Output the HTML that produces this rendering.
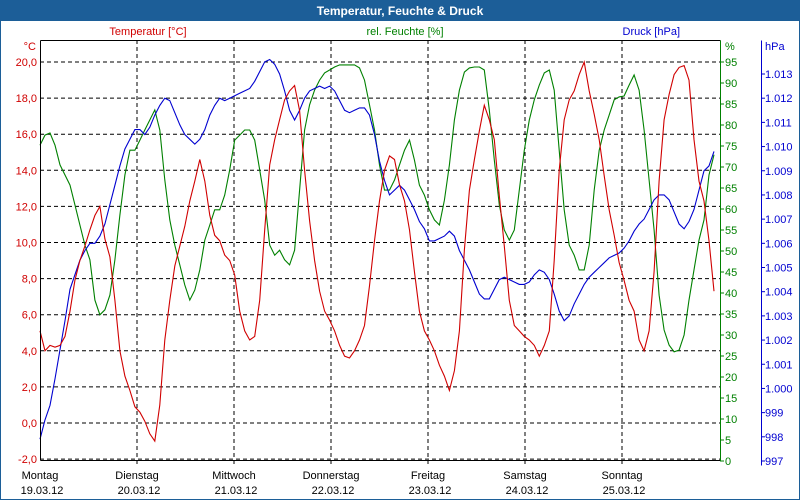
<!DOCTYPE html>
<html><head><meta charset="utf-8"><style>
html,body{margin:0;padding:0;background:#fff}
svg{display:block;font-family:"Liberation Sans",sans-serif}
</style></head><body>
<svg id="chart" width="800" height="500" viewBox="0 0 800 500">
<rect x="0.5" y="0.5" width="799" height="499" fill="#fff" stroke="#1c5e98"/>
<rect x="0" y="0" width="800" height="21" fill="#1c5e98"/>
<text x="400" y="15" text-anchor="middle" fill="#fff" font-size="12" font-weight="bold">Temperatur, Feuchte &amp; Druck</text>
<text x="148" y="35" text-anchor="middle" fill="#d00000" font-size="11">Temperatur [°C]</text>
<text x="405" y="35" text-anchor="middle" fill="#008000" font-size="11">rel. Feuchte [%]</text>
<text x="680" y="35" text-anchor="end" fill="#0000d0" font-size="11">Druck [hPa]</text>
<text x="36" y="50" text-anchor="end" fill="#d00000" font-size="11">°C</text>
<text x="725" y="50" fill="#008000" font-size="11">%</text>
<text x="765" y="50" fill="#0000d0" font-size="11">hPa</text>
<g id="grid"></g>
<g id="series"></g>
<g id="axes"></g>
</svg>
<script>
const dayNames=["Montag","Dienstag","Mittwoch","Donnerstag","Freitag","Samstag","Sonntag"];
const dayDates=["19.03.12","20.03.12","21.03.12","22.03.12","23.03.12","24.03.12","25.03.12"];
const tempTicks=[20,18,16,14,12,10,8,6,4,2,0,-2];
const tempTickLabels=["20,0","18,0","16,0","14,0","12,0","10,0","8,0","6,0","4,0","2,0","0,0","-2,0"];
const humTicks=[0,5,10,15,20,25,30,35,40,45,50,55,60,65,70,75,80,85,90,95];
const presTicks=[997,998,999,1000,1001,1002,1003,1004,1005,1006,1007,1008,1009,1010,1011,1012,1013];
const presTickLabels=["997","998","999","1.000","1.001","1.002","1.003","1.004","1.005","1.006","1.007","1.008","1.009","1.010","1.011","1.012","1.013"];
const totalHours=168;
const temperature=[5.1,4.0,4.3,4.2,4.3,4.8,6.2,7.9,9.0,9.8,10.7,11.5,12.0,10.2,9.2,6.8,4.0,2.6,1.8,0.9,0.6,0.1,-0.6,-1.0,1.0,4.6,6.8,8.7,9.8,10.9,12.3,13.4,14.6,13.4,11.5,10.4,10.1,9.3,9.0,8.2,6.2,5.1,4.6,4.8,6.8,10.7,14.3,15.7,16.8,17.9,18.4,18.7,17.3,14.0,11.2,9.0,7.3,6.2,5.7,5.1,4.3,3.7,3.6,4.0,4.6,5.4,7.6,10.1,12.3,14.0,14.8,14.6,13.2,12.3,10.7,8.4,6.2,5.1,4.6,4.0,3.2,2.6,1.8,2.9,5.1,9.6,12.9,14.6,16.2,17.6,16.8,15.7,12.6,9.8,6.8,5.4,5.1,4.8,4.6,4.3,3.7,4.3,5.1,9.0,14.0,16.8,17.9,18.4,19.3,20.0,18.4,17.1,15.7,13.7,11.8,10.4,8.9,7.9,6.8,6.2,4.6,4.0,5.1,8.4,13.4,16.8,18.2,19.3,19.7,19.8,19.0,15.7,13.4,12.3,10.1,7.3];
const humidity=[75.2,77.6,78.1,75.2,70.5,68.1,65.7,61,56.2,51.4,47.9,38.3,34.8,36,39.5,47.9,58.6,68.1,74,74,76.4,78.8,81.2,83.6,78.8,66.9,57.4,51.4,46.7,41.9,38.3,40.7,45.5,52.6,56.2,59.8,59.8,63.3,69.3,76.4,77.6,78.8,78.8,76.4,69.3,62.1,51.4,49,50.2,47.9,46.7,50.2,64.5,78.8,84.8,88.3,90.7,92.4,93.1,93.8,94.3,94.3,94.3,94.3,93.6,90.7,84.8,78.8,70.5,64.5,64.5,66.9,70.5,74,76.4,71.7,65.7,63.3,59.8,57.4,56.2,62.1,70.5,81.2,88.3,92.6,93.6,93.8,93.8,93.1,83.6,71.7,61,55,52.6,55,64.5,74,81.2,86,89.5,92.4,93.1,88.3,74,59.8,51.4,49,45.5,45.5,51.4,64.5,74,78.8,82.4,86,86.7,86.9,89.5,91.9,88.3,78.8,66.9,55,39.5,31.2,27.6,26,26.4,30,38.3,45.5,52.6,57.4,68.1,72.9];
const pressure=[997.9,998.7,999.3,1000.4,1001.6,1002.8,1004.1,1004.7,1005.3,1005.7,1006.0,1006.0,1006.3,1006.8,1007.6,1008.4,1009.2,1009.9,1010.3,1010.7,1010.7,1010.5,1010.8,1011.3,1011.7,1012.0,1011.9,1011.4,1010.9,1010.5,1010.3,1010.1,1010.3,1010.7,1011.3,1011.7,1012.0,1011.9,1012.0,1012.1,1012.2,1012.3,1012.4,1012.7,1013.1,1013.5,1013.6,1013.4,1013.0,1012.3,1011.5,1011.1,1011.5,1012.0,1012.3,1012.4,1012.5,1012.4,1012.5,1012.3,1011.9,1011.5,1011.4,1011.5,1011.6,1011.6,1011.3,1010.5,1009.4,1008.6,1008.0,1008.2,1008.4,1008.2,1007.8,1007.4,1006.9,1006.6,1006.1,1006.1,1006.2,1006.3,1006.5,1006.3,1005.7,1005.3,1004.9,1004.4,1003.9,1003.7,1003.7,1004.1,1004.5,1004.6,1004.5,1004.4,1004.3,1004.3,1004.4,1004.7,1004.9,1004.8,1004.5,1003.9,1003.2,1002.8,1003.0,1003.5,1003.9,1004.3,1004.6,1004.8,1005.0,1005.2,1005.4,1005.5,1005.6,1005.8,1006.1,1006.5,1006.8,1007.0,1007.4,1007.8,1008.0,1008.0,1007.8,1007.3,1006.8,1006.6,1006.9,1007.4,1008.2,1009.0,1009.2,1009.8];

const NS="http://www.w3.org/2000/svg";
const L=40,R=719,T=40,B=460;
const xH=h=>L+h*(R-L)/totalHours;
const yT=v=>423-(v)*18.05;
const yH=v=>461-v*(461-62)/95;
const yP=v=>461-(v-997)*(461-74)/16;
function mk(tag,attrs,parent,txt){const e=document.createElementNS(NS,tag);for(const k in attrs)e.setAttribute(k,attrs[k]);if(txt!==undefined)e.textContent=txt;parent.appendChild(e);return e;}
const grid=document.getElementById('grid'),ser=document.getElementById('series'),ax=document.getElementById('axes');
// horizontal grid
tempTicks.forEach((v,i)=>{
 const g=mk('line',{x1:L,x2:720,y1:yT(v),y2:yT(v),stroke:'#000','stroke-dasharray':'4,3','stroke-width':1},grid);
 
 
 const t=mk('text',{x:37,y:yT(v)+4,'text-anchor':'end',fill:'#d00000','font-size':11},ax,tempTickLabels[i]);
 
 
});
// vertical grid + day labels
for(let d=0;d<7;d++){
 const x=xH(d*24);
 if(d>0){const g=mk('line',{x1:x,x2:x,y1:T,y2:B+4,stroke:'#000','stroke-dasharray':'4,3'},grid);
  
  }
 const a=mk('text',{x:x,y:479,'text-anchor':'middle','font-size':11,fill:'#000'},ax,dayNames[d]);
 
 
 const b=mk('text',{x:x+2,y:494,'text-anchor':'middle','font-size':11,fill:'#000'},ax,dayDates[d]);
 
 
}
// axes lines
[[L,T,720,T,'#000','plot-top-border'],[L,T,L,B,'#000','temperature-axis'],[L,B,720,B,'#000','time-axis'],[720,T,720,B+1,'#008000','humidity-axis'],[761,T,761,465,'#0000d0','pressure-axis']].forEach(a=>{
 const e=mk('line',{x1:a[0]+.5,y1:a[1]+.5,x2:a[2]+.5,y2:a[3]+.5,stroke:a[4]},ax);
 
 
});
humTicks.forEach(v=>{
 const y=yH(v);
 mk('line',{x1:720,x2:724,y1:y,y2:y,stroke:'#008000'},ax);
 const t=mk('text',{x:725,y:y+4,fill:'#008000','font-size':11},ax,String(v));
 
 
});
presTicks.forEach((v,i)=>{
 const y=yP(v);
 mk('line',{x1:761,x2:765,y1:y,y2:y,stroke:'#0000d0'},ax);
 const t=mk('text',{x:765,y:y+4,fill:'#0000d0','font-size':11},ax,presTickLabels[i]);
 
 
});
function line(arr,fy,col,name){
 const n=arr.length,step=totalHours/n;
 const d=arr.map((v,i)=>(i?'L':'M')+xH(i*step).toFixed(1)+','+fy(v).toFixed(1)).join('');
 const p=mk('path',{d:d,fill:'none',stroke:col,'stroke-width':1.1},ser);
 
 
}
line(humidity,yH,'#008000','humidity-line');
line(pressure,yP,'#0000d0','pressure-line');
line(temperature,yT,'#d00000','temperature-line');
</script>
</body></html>
